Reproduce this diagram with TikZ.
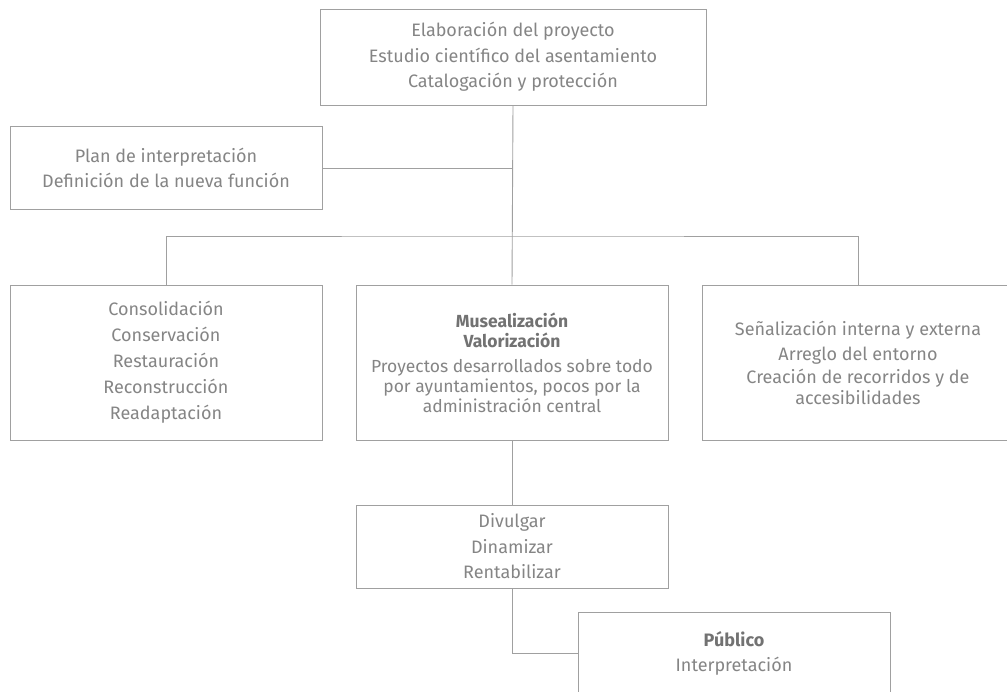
\documentclass[tikz,border=0pt]{standalone}
\usepackage{fontspec}
\setmainfont{Fira Sans}
\definecolor{linegray}{HTML}{A0A0A0}
\definecolor{txtgray}{HTML}{858585}
\definecolor{boldgray}{HTML}{727272}
\tikzset{
  box/.style={draw=linegray, line width=0.9pt, rectangle, inner sep=0pt, align=center,
    text=txtgray, font=\fontsize{18}{25.5}\selectfont, minimum width=312pt},
  conn/.style={draw=linegray, line width=0.9pt}
}
\begin{document}
\begin{tikzpicture}[x=1pt,y=-1pt]
\useasboundingbox (0,0) rectangle (1007,691);
\clip (0,0) rectangle (1007,691);
\fill[white] (0,0) rectangle (1007,691);
\node[box, minimum width=386pt, minimum height=96pt] (top) at (513,57)
  {Elaboración del proyecto\\Estudio científico del asentamiento\\Catalogación y protección};
\node[box, minimum height=83pt] (plan) at (166,168)
  {Plan de interpretación\\Definición de la nueva función};
\node[box, minimum height=155pt, font=\fontsize{18}{26}\selectfont] (left) at (166,362.5)
  {Consolidación\\Conservación\\Restauración\\Reconstrucción\\Readaptación};
\node[box, minimum height=155pt, font=\fontsize{17.5}{20}\selectfont] (mid) at (512,362.5)
  {\textcolor{boldgray}{\textbf{Musealización}}\\\textcolor{boldgray}{\textbf{Valorización}}\\[5pt]Proyectos desarrollados sobre todo\\por ayuntamientos, pocos por la\\administración central};
\node[box, minimum height=155pt, font=\fontsize{18}{21}\selectfont] (right) at (858,362.5)
  {Señalización interna y externa\\[4pt]Arreglo del entorno\\[2pt]Creación de recorridos y de\\accesibilidades};
\node[box, minimum height=83pt] (div) at (512,546.5)
  {Divulgar\\Dinamizar\\Rentabilizar};
\node[box, minimum height=83pt] (pub) at (734,653.5)
  {\textcolor{boldgray}{\textbf{Público}}\\Interpretación};
\coordinate (bar) at (513,236);
\draw[conn] (top.south) -- (mid.north);
\draw[conn] (plan.east) -- (plan.east -| top.south);
\draw[conn] (left.north) |- (bar) -| (right.north);
\draw[conn] (mid.south) -- (div.north);
\draw[conn] (div.south) |- (pub.west);
\end{tikzpicture}
\end{document}
